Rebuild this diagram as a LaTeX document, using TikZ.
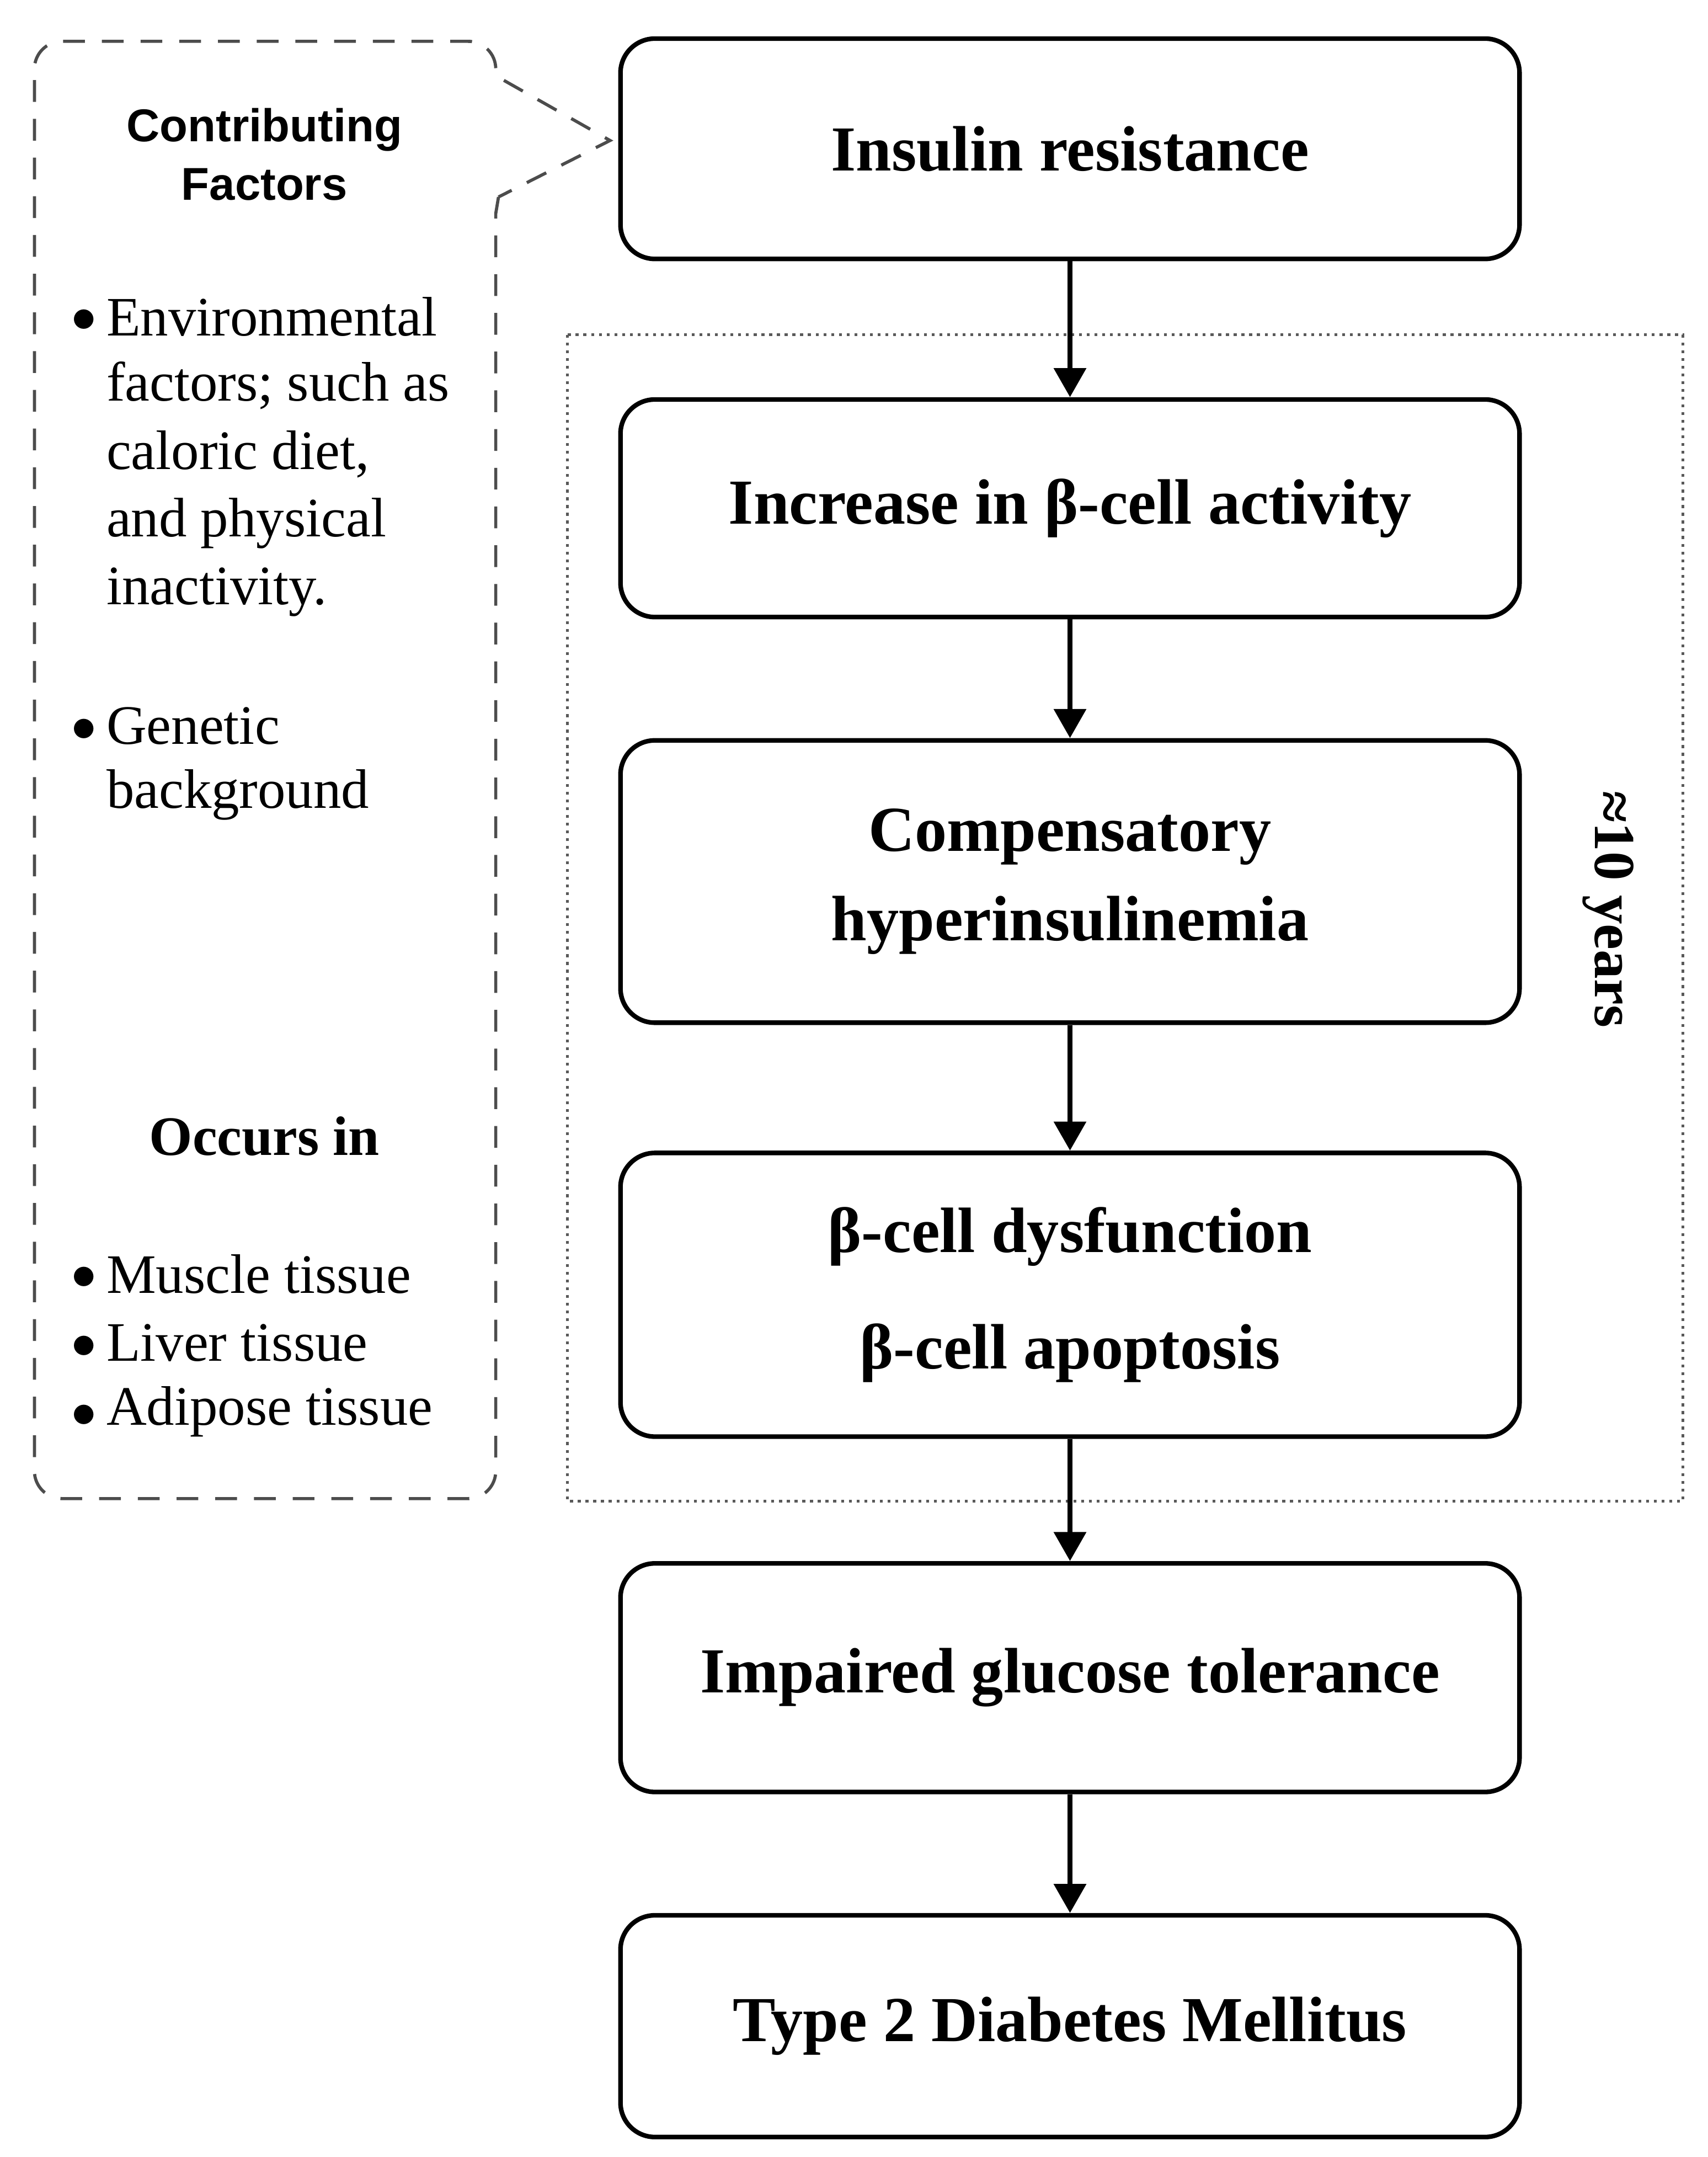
\documentclass[tikz,border=0pt]{standalone}
\usepackage{fontspec}
\setmainfont{Liberation Serif}
\newfontfamily\sansb{Liberation Sans}
\usetikzlibrary{arrows.meta}
\begin{document}
\begin{tikzpicture}[x=0.02cm,y=-0.02cm,
  box/.style={draw,line width=1.9pt,rounded corners=0.5cm,minimum width=13.06cm,inner sep=0pt,align=center,font=\fontsize{26.5}{37}\selectfont\bfseries},
  arr/.style={-{Triangle[length=12pt,width=13pt]},line width=2.2pt},
  lt/.style={anchor=west,font=\fontsize{23}{27}\selectfont,inner sep=0pt},
  bul/.style={anchor=center,font=\fontsize{21}{25}\selectfont,inner sep=0pt}]
\useasboundingbox (0,0) rectangle (1240,1566);
\draw[dotted,line width=1.2pt,gray!70!black] (412,243) rectangle (1222,1090);
\node[box,minimum height=3.2cm] (b1) at (777,108) {Insulin resistance};
\node[box,minimum height=3.16cm] (b2) at (777,369) {Increase in β-cell activity};
\node[box,minimum height=4.1cm] (b3) at (777,640) {Compensatory\\hyperinsulinemia};
\node[box,minimum height=4.12cm,font=\fontsize{26.5}{48}\selectfont\bfseries] (b4) at (777,940) {β-cell dysfunction\\β-cell apoptosis};
\node[box,minimum height=3.32cm] (b5) at (777,1218) {Impaired glucose tolerance};
\node[box,minimum height=3.22cm] (b6) at (777,1471) {Type 2 Diabetes Mellitus};
\draw[arr] (b1) -- (b2);
\draw[arr] (b2) -- (b3);
\draw[arr] (b3) -- (b4);
\draw[arr] (b4) -- (b5);
\draw[arr] (b5) -- (b6);
\node[rotate=-90,font=\fontsize{24}{28}\selectfont\bfseries] (yr) at (1168,660) {≈10 years};
\draw[dashed,line width=1.3pt,gray!60!black,dash pattern=on 9pt off 7pt]
  (362,143) -- (360,155) -- (360,1068) arc (0:90:20) -- (45,1088) arc (90:180:20) -- (25,50) arc (180:270:20) -- (340,30) arc (270:360:20) -- (360,55) -- (443,102) -- (362,143);
\node[font=\sansb\fontsize{19}{24}\selectfont\bfseries,align=center] (cf) at (192,112) {Contributing\\Factors};
\foreach \y/\t in {230/Environmental,280/{factors; such as},330/{caloric diet,},380/{and physical},430/{inactivity.},527/Genetic,577/background,925/Muscle tissue,975/Liver tissue,1025/Adipose tissue}
  \node[lt] at (77,\y) {\t};
\foreach \y in {230,527,925,975,1025} \node[bul] at (61,\y+3) {$\bullet$};
\node[font=\fontsize{23}{27}\selectfont\bfseries] (oc) at (192,825) {Occurs in};
\end{tikzpicture}
\end{document}
